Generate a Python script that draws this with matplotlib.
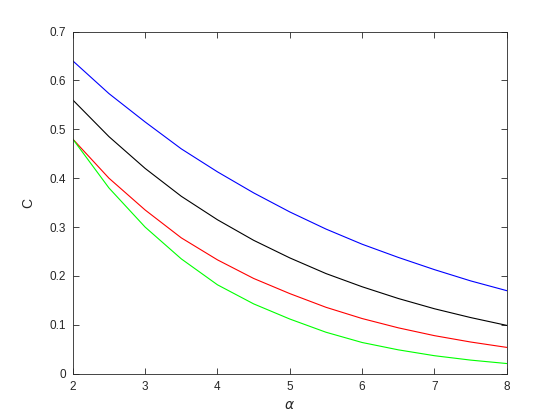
import matplotlib
matplotlib.use("Agg")
import matplotlib.pyplot as plt

# values, alpha in steps of 0.5
alpha = [2.0, 2.5, 3.0, 3.5, 4.0, 4.5, 5.0, 5.5, 6.0, 6.5, 7.0, 7.5, 8.0]
c_blue = [0.640, 0.573, 0.515, 0.460, 0.413, 0.370, 0.331, 0.296, 0.265, 0.238, 0.213, 0.190, 0.170]
c_black = [0.560, 0.485, 0.420, 0.363, 0.315, 0.273, 0.237, 0.205, 0.178, 0.154, 0.133, 0.115, 0.099]
c_red = [0.480, 0.400, 0.335, 0.278, 0.233, 0.195, 0.164, 0.136, 0.113, 0.094, 0.078, 0.065, 0.054]
c_green = [0.480, 0.380, 0.300, 0.235, 0.182, 0.143, 0.112, 0.085, 0.064, 0.049, 0.037, 0.028, 0.021]

x_ticks = [2, 3, 4, 5, 6, 7, 8]
y_ticks = [0, 0.1, 0.2, 0.3, 0.4, 0.5, 0.6, 0.7]
y_labels = ["0", "0.1", "0.2", "0.3", "0.4", "0.5", "0.6", "0.7"]

plt.rcParams["font.family"] = ["Liberation Sans", "DejaVu Sans"]
edge = (0.15, 0.15, 0.15)

fig = plt.figure(figsize=(5.6, 4.2), dpi=100)
ax = fig.add_axes([0.13, 0.11, 0.775, 0.815])

ax.plot(alpha, c_blue, color=(0, 0, 1), linewidth=0.8)
ax.plot(alpha, c_black, color=(0, 0, 0), linewidth=0.8)
ax.plot(alpha, c_red, color=(1, 0, 0), linewidth=0.8)
ax.plot(alpha, c_green, color=(0, 1, 0), linewidth=0.8)

ax.set_xlim(2, 8)
ax.set_ylim(0, 0.7)
ax.set_xticks(x_ticks)
ax.set_yticks(y_ticks)
ax.set_yticklabels(y_labels)
ax.tick_params(direction="in", top=True, right=True, length=4, width=0.6,
               colors=edge, labelsize=8.5, pad=5)
for s in ax.spines.values():
    s.set_color(edge)
    s.set_linewidth(0.6)

ax.set_xlabel(r"$\alpha$", fontsize=10, color=edge, labelpad=4)
ax.set_ylabel("C", fontsize=10, color=edge, labelpad=10)

fig.savefig("out.png", dpi=100)
